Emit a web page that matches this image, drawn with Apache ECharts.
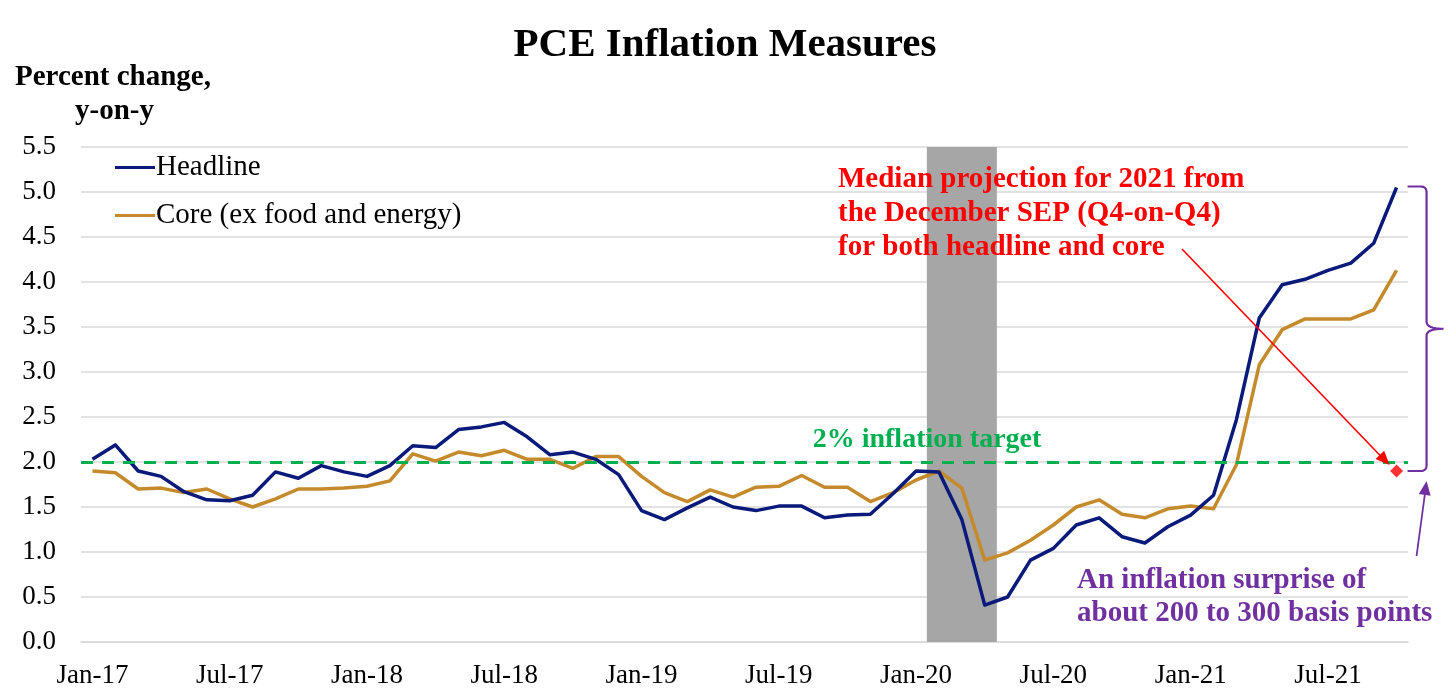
<!DOCTYPE html>
<html>
<head>
<meta charset="utf-8">
<title>PCE Inflation Measures</title>
<script src="https://cdn.jsdelivr.net/npm/echarts@6/dist/echarts.min.js"></script>
<style>
  html, body { margin: 0; padding: 0; background: #fff; }
  #chart { width: 1450px; height: 694px; }
</style>
</head>
<body>
<div id="chart"></div>
<script>
// monthly categories, Jan-17 .. Oct-21
const months = [
  'Jan-17', 'Feb-17', 'Mar-17', 'Apr-17', 'May-17', 'Jun-17', 'Jul-17', 'Aug-17', 'Sep-17', 'Oct-17', 'Nov-17', 'Dec-17',
  'Jan-18', 'Feb-18', 'Mar-18', 'Apr-18', 'May-18', 'Jun-18', 'Jul-18', 'Aug-18', 'Sep-18', 'Oct-18', 'Nov-18', 'Dec-18',
  'Jan-19', 'Feb-19', 'Mar-19', 'Apr-19', 'May-19', 'Jun-19', 'Jul-19', 'Aug-19', 'Sep-19', 'Oct-19', 'Nov-19', 'Dec-19',
  'Jan-20', 'Feb-20', 'Mar-20', 'Apr-20', 'May-20', 'Jun-20', 'Jul-20', 'Aug-20', 'Sep-20', 'Oct-20', 'Nov-20', 'Dec-20',
  'Jan-21', 'Feb-21', 'Mar-21', 'Apr-21', 'May-21', 'Jun-21', 'Jul-21', 'Aug-21', 'Sep-21', 'Oct-21'
]

const headline = [
  2.03, 2.19, 1.90, 1.84, 1.67, 1.58, 1.57, 1.63, 1.89, 1.82, 1.96, 1.89,
  1.84, 1.96, 2.18, 2.16, 2.36, 2.39, 2.44, 2.28, 2.08, 2.11, 2.03, 1.86,
  1.46, 1.36, 1.49, 1.61, 1.50, 1.46, 1.51, 1.51, 1.38, 1.41, 1.42, 1.65,
  1.90, 1.89, 1.36, 0.41, 0.50, 0.91, 1.04, 1.30, 1.38, 1.17, 1.10, 1.28,
  1.41, 1.63, 2.47, 3.60, 3.97, 4.03, 4.13, 4.21, 4.43, 5.05
]

const core = [
  1.90, 1.88, 1.70, 1.71, 1.66, 1.70, 1.59, 1.50, 1.59, 1.70, 1.70, 1.71,
  1.73, 1.79, 2.09, 2.01, 2.11, 2.07, 2.13, 2.03, 2.03, 1.93, 2.06, 2.06,
  1.84, 1.66, 1.56, 1.69, 1.61, 1.72, 1.73, 1.85, 1.72, 1.72, 1.56, 1.66,
  1.80, 1.90, 1.71, 0.91, 0.99, 1.13, 1.30, 1.50, 1.58, 1.42, 1.38, 1.48,
  1.51, 1.48, 1.97, 3.08, 3.47, 3.59, 3.59, 3.59, 3.69, 4.13
]

// shaded recession months
const recessionMonths = ['Feb-20', 'Mar-20', 'Apr-20']

// December SEP median projection for 2021
const sepProjection = [['Oct-21', 1.9]]

const inflationTarget = 2.0
const yMin = 0
const yMax = 5.5
const yStep = 0.5

const serif = '"Liberation Serif", "DejaVu Serif", serif'
const navy = '#0a1a7a'
const gold = '#c58a2c'
const green = '#00b050'
const red = '#ff0000'
const purple = '#7030a0'

const chart = echarts.init(document.getElementById('chart'))

const recessionData = months.map(m => recessionMonths.includes(m) ? yMax : null)

const option = {
  animation: false,
  backgroundColor: '#fff',
  textStyle: { fontFamily: serif },
  title: {
    text: 'PCE Inflation Measures',
    left: 'center',
    top: 20,
    textStyle: { fontFamily: serif, fontSize: 41, fontWeight: 'bold', color: '#000' }
  },
  legend: {
    data: ['Headline', 'Core (ex food and energy)'],
    orient: 'vertical',
    left: 110,
    top: 148,
    itemWidth: 40,
    itemHeight: 3,
    itemGap: 19,
    icon: 'rect',
    textStyle: { fontFamily: serif, fontSize: 29, color: '#000', padding: [0, 0, 0, -4] }
  },
  grid: {
    left: 81,
    right: 42,
    top: 147,
    bottom: 52
  },
  xAxis: {
    type: 'category',
    data: months,
    boundaryGap: true,
    axisLine: { lineStyle: { color: '#d9d9d9', width: 1.5 } },
    axisTick: { interval: 5, length: 9, lineStyle: { color: '#d9d9d9', width: 1.5 } },
    axisLabel: {
      interval: 5,
      margin: 20,
      color: '#000',
      fontFamily: serif,
      fontSize: 27
    },
    splitLine: { show: false }
  },
  yAxis: {
    type: 'value',
    min: yMin,
    max: yMax,
    interval: yStep,
    axisLine: { show: false },
    axisTick: { show: false },
    axisLabel: {
      margin: 25,
      color: '#000',
      fontFamily: serif,
      fontSize: 27,
      formatter: v => v.toFixed(1)
    },
    splitLine: { lineStyle: { color: '#d9d9d9', width: 1.5 } }
  },
  series: [
    {
      name: 'Recession',
      type: 'bar',
      data: recessionData,
      barWidth: '106%',
      barCategoryGap: '0%',
      itemStyle: { color: '#a6a6a6', borderWidth: 0 },
      z: 1,
      silent: true
    },
    {
      name: 'Core (ex food and energy)',
      type: 'line',
      data: core,
      symbol: 'none',
      lineStyle: { color: gold, width: 3.5, join: 'round' },
      itemStyle: { color: gold },
      z: 3
    },
    {
      name: 'Headline',
      type: 'line',
      data: headline,
      symbol: 'none',
      lineStyle: { color: navy, width: 3.5, join: 'round' },
      itemStyle: { color: navy },
      z: 4,
      markLine: {
        silent: true,
        symbol: 'none',
        label: { show: false },
        lineStyle: { color: green, width: 3, type: [12, 9] },
        data: [{ yAxis: inflationTarget }]
      }
    },
    {
      name: 'SEP projection',
      type: 'scatter',
      data: sepProjection,
      symbol: 'diamond',
      symbolSize: 13,
      itemStyle: { color: red },
      z: 6
    }
  ]
}

chart.setOption(option)

// annotations, positioned from the data through the chart's own scales
const toPx = (cat, val) => chart.convertToPixel({ gridIndex: 0 }, [cat, val])

const arrowHead = (from, to, len, half, color) => {
  const dx = to[0] - from[0]
  const dy = to[1] - from[1]
  const d = Math.sqrt(dx * dx + dy * dy)
  const ux = dx / d
  const uy = dy / d
  const hx = to[0] - ux * len
  const hy = to[1] - uy * len
  return {
    type: 'polygon',
    shape: { points: [to, [hx - uy * half, hy + ux * half], [hx + uy * half, hy - ux * half]] },
    style: { fill: color },
    silent: true,
    z: 20
  }
}

// sampled quadratic curve, for the brace corners
const quad = (p0, p1, p2) => {
  const pts = []
  for (let i = 0; i <= 8; i++) {
    const t = i / 8
    const a = (1 - t) * (1 - t)
    const b = 2 * (1 - t) * t
    const c = t * t
    pts.push([a * p0[0] + b * p1[0] + c * p2[0], a * p0[1] + b * p1[1] + c * p2[1]])
  }
  return pts
}

const lastCat = months[months.length - 1]
const projPx = toPx(sepProjection[0][0], sepProjection[0][1])
const latestPx = toPx(lastCat, headline[headline.length - 1])
const targetPx = toPx(months[0], inflationTarget)

// red arrow towards the projection
const redFrom = [1182, 249]
const redTo = [projPx[0] - 7, projPx[1] - 6]

// curly brace spanning projection to latest headline
const braceX = projPx[0] + 30
const braceL = projPx[0] + 11
const yT = latestPx[1] - 1
const yB = projPx[1]
const yM = (yT + yB) / 2
const braceTip = braceX + 17
const bracePts = [].concat(
  [[braceL, yT]],
  quad([braceX - 6, yT], [braceX, yT], [braceX, yT + 6]),
  quad([braceX, yM - 7], [braceX, yM], [braceTip, yM]),
  quad([braceTip, yM], [braceX, yM], [braceX, yM + 7]),
  quad([braceX, yB - 6], [braceX, yB], [braceX - 6, yB]),
  [[braceL, yB]]
)

const purpleFrom = [braceX - 10, 556]
const purpleTo = [braceX, projPx[1] + 10]

chart.setOption({
  graphic: [
    {
      type: 'text',
      x: 15,
      y: 78,
      style: { text: 'Percent change,', font: `bold 29px ${serif}`, fill: '#000', verticalAlign: 'middle' }
    },
    {
      type: 'text',
      x: 75,
      y: 112,
      style: { text: 'y-on-y', font: `bold 29px ${serif}`, fill: '#000', verticalAlign: 'middle' }
    },
    {
      type: 'text',
      x: 927,
      y: targetPx[1] - 22,
      style: {
        text: '2% inflation target',
        font: `bold 28px ${serif}`,
        fill: green,
        align: 'center',
        verticalAlign: 'middle'
      },
      z: 10
    },
    {
      type: 'text',
      x: 838,
      y: 163,
      style: {
        text: 'Median projection for 2021 from\nthe December SEP (Q4-on-Q4)\nfor both headline and core',
        font: `bold 29px ${serif}`,
        lineHeight: 34,
        fill: red
      },
      z: 10
    },
    {
      type: 'line',
      shape: { x1: redFrom[0], y1: redFrom[1], x2: redTo[0] - 8, y2: redTo[1] - 8 },
      style: { stroke: red, lineWidth: 1.6 },
      silent: true,
      z: 20
    },
    arrowHead(redFrom, redTo, 14, 6, red),
    {
      type: 'polyline',
      shape: { points: bracePts },
      style: { stroke: purple, lineWidth: 2.2, fill: null },
      silent: true,
      z: 20
    },
    {
      type: 'line',
      shape: { x1: purpleFrom[0], y1: purpleFrom[1], x2: purpleTo[0] - 1, y2: purpleTo[1] + 8 },
      style: { stroke: purple, lineWidth: 1.8 },
      silent: true,
      z: 20
    },
    arrowHead(purpleFrom, purpleTo, 14, 6, purple),
    {
      type: 'text',
      x: 1077,
      y: 564,
      style: {
        text: 'An inflation surprise of\nabout 200 to 300 basis points',
        font: `bold 29px ${serif}`,
        lineHeight: 33,
        fill: purple
      },
      z: 10
    }
  ]
})
</script>
</body>
</html>
